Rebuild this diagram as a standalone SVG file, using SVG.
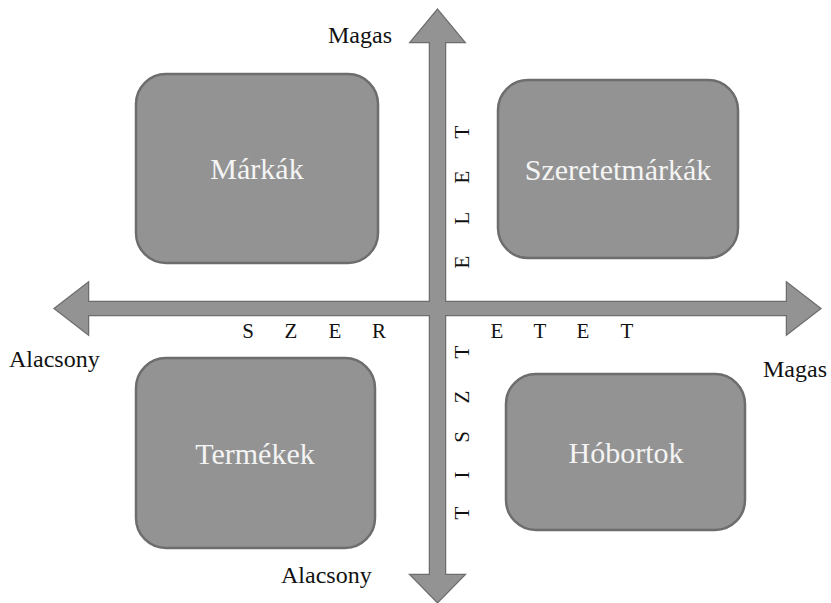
<svg xmlns="http://www.w3.org/2000/svg" width="831" height="603" viewBox="0 0 831 603">
<style>
text{font-family:"Liberation Serif","Times New Roman",serif}
.box{fill:#939393;stroke:#6d6d6d;stroke-width:2.5}
.bt{font-size:30px;fill:#f4f4f4;text-anchor:middle;dominant-baseline:central}
.lbl{font-size:24px;fill:#111}
.ax{font-size:21px;fill:#111;text-anchor:middle}
.arS{fill:none;stroke:#6d6d6d;stroke-width:2.5;stroke-linejoin:miter}
.arF{fill:#939393;stroke:none}
</style>
<defs>
<polygon id="vArrow" points="437.5,10 464,42 445,42 445,575 464,575 437.5,602 411,575 430,575 430,42 411,42"/>
<polygon id="hArrow" points="55,308.5 88,283 88,302 787,302 787,283 820,308.5 787,334 787,315 88,315 88,334"/>
</defs>
<g id="connectors">
<use href="#vArrow" class="arS"/>
<use href="#hArrow" class="arS"/>
<use href="#vArrow" class="arF"/>
<use href="#hArrow" class="arF"/>
</g>
<g id="node-markak">
<rect class="box" x="136" y="74" width="242" height="189" rx="30"/>
<text class="bt" x="257" y="168">Márkák</text>
</g>
<g id="node-szeretetmarkak">
<rect class="box" x="498" y="80" width="240" height="178" rx="30"/>
<text class="bt" x="618" y="169">Szeretetmárkák</text>
</g>
<g id="node-termekek">
<rect class="box" x="136" y="358" width="239" height="190" rx="30"/>
<text class="bt" x="255" y="453">Termékek</text>
</g>
<g id="node-hobortok">
<rect class="box" x="506" y="374" width="239" height="156" rx="30"/>
<text class="bt" x="626" y="452">Hóbortok</text>
</g>
<g id="labels">
<text class="lbl" x="328" y="43">Magas</text>
<text class="lbl" x="9" y="367">Alacsony</text>
<text class="lbl" x="763" y="377">Magas</text>
<text class="lbl" x="281" y="583">Alacsony</text>
<text class="ax" x="248 291 335 379" y="338">SZER</text>
<text class="ax" x="497 540 583 627" y="338">ETET</text>
<g transform="translate(469,0) rotate(-90)">
<text class="ax" x="-262 -218 -177 -132" y="0">ELET</text>
<text class="ax" x="-513 -475 -437 -397 -352" y="0">TISZT</text>
</g>
</g>
</svg>
